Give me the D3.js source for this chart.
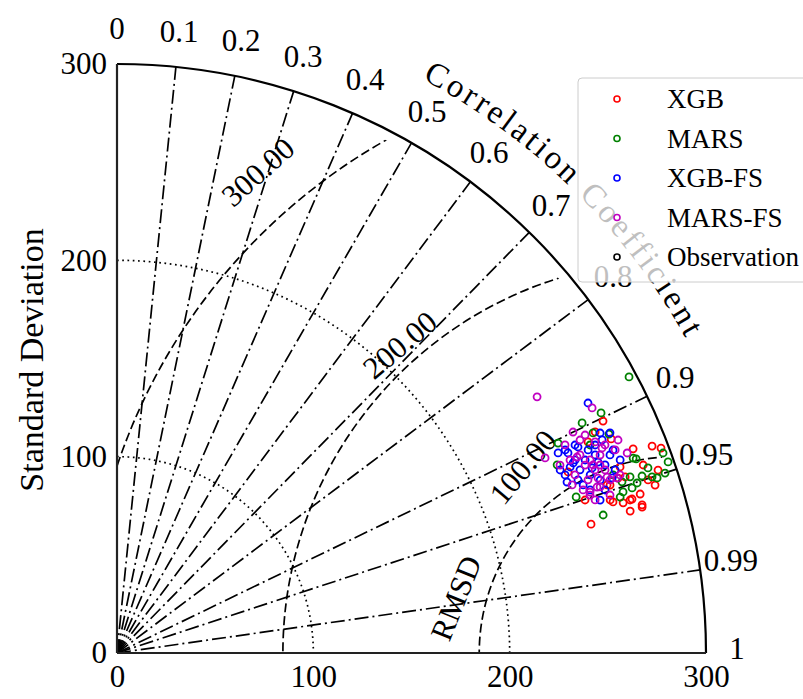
<!DOCTYPE html>
<html><head><meta charset="utf-8">
<script src="https://cdn.jsdelivr.net/npm/d3@7"></script>
<style>body{margin:0;background:#fff} svg{display:block}</style>
</head><body>
<svg id="c" width="803" height="699"></svg>
<script>
// ---------- data ----------
const stdTicks = [0, 100, 200, 300];
const corrTicks = [0, 0.1, 0.2, 0.3, 0.4, 0.5, 0.6, 0.7, 0.8, 0.9, 0.95, 0.99, 1];
const corrLines = [0.1, 0.2, 0.3, 0.4, 0.5, 0.6, 0.7, 0.8, 0.9, 0.95, 0.99];
const stdCircles = [100, 200];
const rmsdValues = [100, 200, 300];
const refStd = 284.5;
const seriesNames = ["XGB", "MARS", "XGB-FS", "MARS-FS", "Observation"];
const seriesColors = ["#ff0000", "#008000", "#0000ff", "#c000c0", "#000000"];

const xgbStd  = [274.3,292.2,296.1,282.7,284.6,290.9,270.3,273.9,265.3,278.5,272.7,264.1,268.9,250.8,277.6,271.2,250.2,268.3,262.9,247.6,284.5,263.9,273.8,277.9,263.0,274.3,273.2,287.1];
const xgbCorr = [.9176,.9327,.9358,.9299,.9417,.9473,.9441,.9449,.9466,.9568,.9583,.9566,.9587,.9505,.9635,.9638,.9650,.9077,.9126,.9280,.9508,.9459,.9581,.9624,.9551,.9025,.9379,.9546];

const marsStd  = [296.3,275.2,264.3,267.1,274.3,282.3,286.4,296.2,293.8,289.2,282.2,276.3,271.6,278.7,275.5,268.3,247.0,257.4,248.8,263.2,243.8,281.0,268.5,286.9,270.5,297.1];
const marsCorr = [.8802,.8959,.8963,.9077,.9136,.9367,.9443,.9390,.9501,.9513,.9476,.9458,.9471,.9505,.9523,.9552,.9468,.9620,.9029,.9154,.9195,.9355,.9412,.9499,.9529,.9448];

const xgbFsStd  = [271.6,270.4,275.0,246.7,251.3,249.5,245.2,257.5,257.9,263.6,266.4,261.4,253.6,256.2,270.6,270.3,254.9,265.6,252.4,274.5,262.1,259.7,253.2,245.6,263.6,261.3,267.5,244.2,258.1,273.0,250.6,257.2,251.7,250.8,269.9];
const xgbFsCorr = [.8833,.9101,.9131,.9107,.9141,.9251,.9348,.9359,.9245,.9239,.9331,.9415,.9299,.9105,.9279,.9386,.9454,.9170,.9407,.9336,.9485,.9318,.9215,.9293,.9295,.9183,.9428,.9243,.9534,.9255,.9109,.9130,.9231,.9362,.9156];

const marsFsStd  = [250.6,272.3,258.1,239.6,254.5,260.2,259.6,260.7,256.9,265.5,250.8,266.2,255.6,265.9,274.0,250.3,255.7,271.8,256.5,251.6,260.3,270.2,263.7,260.7,251.5,245.1,277.3,247.1,264.0,263.0,266.2,268.2,279.1,254.7,260.7,265.2,269.9,258.7,254.0];
const marsFsCorr = [.8538,.8887,.8999,.9100,.9467,.9457,.9085,.9339,.9280,.9363,.9200,.9435,.9386,.9253,.9260,.9320,.9524,.9427,.9194,.9070,.9258,.9199,.9523,.9398,.9439,.9206,.9203,.9381,.9319,.9065,.9148,.9211,.9310,.9200,.9301,.9412,.9439,.9451,.9485];

const series = [
  {std: xgbStd, corr: xgbCorr},
  {std: marsStd, corr: marsCorr},
  {std: xgbFsStd, corr: xgbFsCorr},
  {std: marsFsStd, corr: marsFsCorr}
];

// ---------- layout ----------
const ox = 117, oy = 653, RPX = 589;
const FONT = "'Liberation Serif', 'Times New Roman', serif";
const rs = d3.scaleLinear().domain([0, 300]).range([0, RPX]);
const xs = d3.scaleLinear().domain([0, 300]).range([ox, ox + RPX]);
const ys = d3.scaleLinear().domain([0, 300]).range([oy, oy - RPX]);
const px = (s, c) => ox + rs(s) * c;
const py = (s, c) => oy - rs(s) * Math.sqrt(Math.max(0, 1 - c * c));

const svg = d3.select("#c");
const defs = svg.append("defs");
defs.append("clipPath").attr("id", "quad").append("path")
  .attr("d", `M${ox},${oy} L${ox + rs(295)},${oy} A${rs(295)},${rs(295)} 0 0 0 ${ox},${oy - rs(295)} Z`);

// std dotted circles
svg.selectAll(".stdc").data(stdCircles).join("path")
  .attr("d", s => `M${ox},${oy - rs(s)} A${rs(s)},${rs(s)} 0 0 1 ${ox + rs(s)},${oy}`)
  .attr("fill", "none").attr("stroke", "#000").attr("stroke-width", 1.7)
  .attr("stroke-dasharray", "1.7,3.6");

// correlation radial lines
svg.selectAll(".cl").data(corrLines).join("line")
  .attr("x1", ox).attr("y1", oy)
  .attr("x2", c => px(300, c)).attr("y2", c => py(300, c))
  .attr("stroke", "#000").attr("stroke-width", 1.7)
  .attr("stroke-dasharray", "14,4,2,4");

// RMSD dashed circles
svg.append("g").attr("clip-path", "url(#quad)")
  .selectAll("circle").data(rmsdValues).join("circle")
  .attr("cx", xs(refStd)).attr("cy", oy).attr("r", d => rs(d))
  .attr("fill", "none").attr("stroke", "#000").attr("stroke-width", 1.7)
  .attr("stroke-dasharray", "9,4");

// RMSD labels
const rmsdLabelPos = [
  {v: 100, x: 523, y: 467, rot: -50},
  {v: 200, x: 400, y: 345, rot: -40},
  {v: 300, x: 258, y: 172, rot: -42}
];
svg.selectAll(".rl").data(rmsdLabelPos).join("text")
  .attr("transform", d => `translate(${d.x},${d.y}) rotate(${d.rot})`)
  .attr("text-anchor", "middle").attr("dominant-baseline", "central")
  .attr("font-family", FONT).attr("font-size", 31)
  .text(d => d3.format(".2f")(d.v));
svg.append("text").attr("transform", "translate(456,598) rotate(-68)")
  .attr("text-anchor", "middle").attr("dominant-baseline", "central")
  .attr("font-family", FONT).attr("font-size", 31).text("RMSD");

// outer arc
svg.append("path")
  .attr("d", `M${ox},${oy - RPX} A${RPX},${RPX} 0 0 1 ${ox + RPX},${oy}`)
  .attr("fill", "none").attr("stroke", "#000").attr("stroke-width", 2.2);

// axes lines
svg.append("line").attr("x1", ox).attr("y1", oy - RPX).attr("x2", ox).attr("y2", oy)
  .attr("stroke", "#222").attr("stroke-width", 2.2);
svg.append("line").attr("x1", ox).attr("y1", oy).attr("x2", ox + RPX).attr("y2", oy)
  .attr("stroke", "#222").attr("stroke-width", 2.2);

// axis tick labels
const gy = svg.append("g").attr("transform", `translate(${ox},0)`)
  .call(d3.axisLeft(ys).tickValues(stdTicks).tickSize(0).tickPadding(10).tickFormat(d3.format("d")));
const gx = svg.append("g").attr("transform", `translate(0,${oy})`)
  .call(d3.axisBottom(xs).tickValues(stdTicks).tickSize(0).tickPadding(12).tickFormat(d3.format("d")));
[gx, gy].forEach(g => {
  g.select(".domain").remove();
  g.selectAll("text").attr("font-family", FONT).attr("font-size", 31).attr("fill", "#000");
});

// y title
svg.append("text").attr("transform", "translate(31,360) rotate(-90)")
  .attr("text-anchor", "middle").attr("dominant-baseline", "central")
  .attr("font-family", FONT).attr("font-size", 34).text("Standard Deviation");

// correlation tick labels
const RL = 620;
svg.selectAll(".ct").data(corrTicks).join("text")
  .attr("x", c => ox + RL * c).attr("y", c => oy - 5 - RL * Math.sqrt(1 - c * c))
  .attr("text-anchor", "middle").attr("dominant-baseline", "central")
  .attr("font-family", FONT).attr("font-size", 31)
  .text(c => String(c));

// Correlation Coefficient curved title, letter by letter
(function () {
  const title = "Correlation Coefficient";
  const Rt = 650, a1 = 62 * Math.PI / 180, a2 = 29 * Math.PI / 180;
  const fs = 33;
  const tmp = svg.append("text").attr("font-family", FONT).attr("font-size", fs);
  const widths = title.split("").map(ch => { tmp.text(ch === " " ? "\u00a0" : ch); return tmp.node().getComputedTextLength(); });
  tmp.remove();
  const total = d3.sum(widths);
  const arcLen = Rt * (a1 - a2);
  const extra = (arcLen - total) / (title.length - 1);
  let s = 0;
  const g = svg.append("g");
  title.split("").forEach((ch, i) => {
    const mid = s + widths[i] / 2;
    s += widths[i] + extra;
    if (ch === " ") return;
    const th = a1 - mid / Rt;
    const x = ox + Rt * Math.cos(th), y = oy - Rt * Math.sin(th);
    g.append("text").attr("transform", `translate(${x},${y}) rotate(${90 - th * 180 / Math.PI})`)
      .attr("text-anchor", "middle").attr("font-family", FONT).attr("font-size", fs).text(ch);
  });
})();

// data points
series.forEach((s, i) => {
  svg.append("g").selectAll("circle").data(s.std.map((v, k) => [v, s.corr[k]])).join("circle")
    .attr("cx", d => px(d[0], d[1])).attr("cy", d => py(d[0], d[1])).attr("r", 3.5)
    .attr("fill", "none").attr("stroke", seriesColors[i]).attr("stroke-width", 1.8);
});

// legend
const lg = svg.append("g");
lg.append("rect").attr("x", 578).attr("y", 78).attr("width", 240).attr("height", 204).attr("rx", 4)
  .attr("fill", "#fff").attr("fill-opacity", 0.75).attr("stroke", "#ccc").attr("stroke-width", 1);
seriesNames.forEach((n, i) => {
  const yy = 99 + i * 39.5;
  lg.append("circle").attr("cx", 617).attr("cy", yy).attr("r", 3)
    .attr("fill", "none").attr("stroke", seriesColors[i]).attr("stroke-width", 1.6);
  lg.append("text").attr("x", 667).attr("y", yy).attr("dominant-baseline", "central")
    .attr("font-family", FONT).attr("font-size", 27).text(n);
});
</script>
</body></html>
